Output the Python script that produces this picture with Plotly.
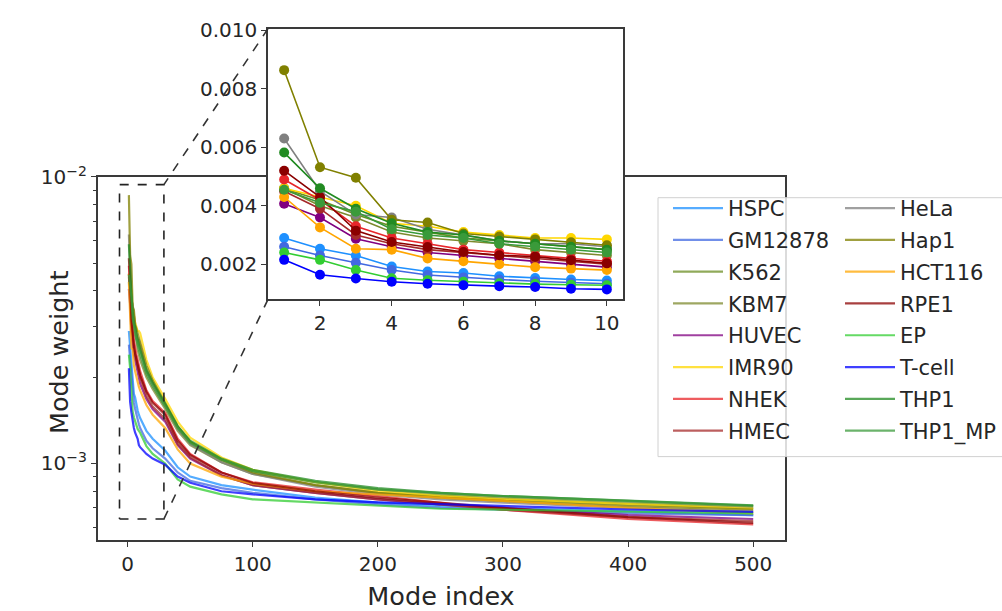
import plotly.graph_objects as go
import math

# ---------------- data ----------------
MODE_INDEX = [1, 2, 3, 4, 5, 6, 7, 8, 9, 10, 15, 20, 30, 40, 50, 75, 100, 150, 200, 250, 300, 400, 500]
N_INSET = 10

CELL_LINES = ["HSPC", "GM12878", "K562", "KBM7", "HUVEC", "IMR90", "NHEK", "HMEC",
              "HeLa", "Hap1", "HCT116", "RPE1", "EP", "T-cell", "THP1", "THP1_MP"]

HSPC = [0.0029, 0.00253, 0.0023, 0.00192, 0.00175, 0.0017, 0.00159, 0.00153, 0.00148, 0.00144, 0.0013, 0.00122, 0.00111, 0.00097, 0.0009, 0.00084, 0.00081, 0.00076, 0.00073, 0.00071, 0.0007, 0.00068, 0.00066]
GM12878 = [0.0026, 0.0023, 0.00205, 0.0018, 0.00163, 0.00155, 0.00148, 0.00142, 0.00137, 0.00133, 0.0012, 0.00113, 0.00104, 0.00093, 0.00087, 0.00082, 0.00079, 0.00075, 0.00072, 0.0007, 0.00069, 0.00067, 0.00066]
K562 = [0.00458, 0.0042, 0.0037, 0.0033, 0.0031, 0.0029, 0.0028, 0.0027, 0.0026, 0.0025, 0.0021, 0.0019, 0.0016, 0.00134, 0.00119, 0.00103, 0.00094, 0.00086, 0.00081, 0.00078, 0.00076, 0.00073, 0.00071]
KBM7 = [0.0046, 0.0040, 0.0036, 0.0031, 0.0029, 0.0028, 0.0027, 0.0025, 0.0024, 0.0023, 0.002, 0.00182, 0.00155, 0.0013, 0.00116, 0.00101, 0.00092, 0.00084, 0.00079, 0.00077, 0.00075, 0.00072, 0.0007]
HUVEC = [0.00407, 0.0036, 0.00287, 0.0026, 0.0024, 0.0023, 0.0022, 0.0021, 0.002, 0.0019, 0.00168, 0.00155, 0.0014, 0.00116, 0.00104, 0.00091, 0.00084, 0.00079, 0.00075, 0.00072, 0.0007, 0.00066, 0.00064]
IMR90 = [0.0046, 0.0043, 0.0040, 0.0034, 0.0033, 0.0031, 0.0030, 0.0029, 0.0029, 0.00285, 0.0023, 0.002, 0.00168, 0.0014, 0.00123, 0.00105, 0.00095, 0.00086, 0.0008, 0.00077, 0.00075, 0.00072, 0.000695]
NHEK = [0.0049, 0.0042, 0.0033, 0.0029, 0.0027, 0.0025, 0.0024, 0.0023, 0.0022, 0.0021, 0.0018, 0.00165, 0.0015, 0.00122, 0.00108, 0.00093, 0.00086, 0.00081, 0.00077, 0.00073, 0.00069, 0.00064, 0.000613]
HMEC = [0.0045, 0.0039, 0.003, 0.0027, 0.0025, 0.0024, 0.0023, 0.0022, 0.0021, 0.002, 0.00172, 0.00158, 0.00143, 0.00117, 0.00105, 0.00091, 0.00084, 0.00079, 0.00075, 0.00072, 0.00069, 0.00065, 0.00063]
HELA = [0.0063, 0.0045, 0.0037, 0.0036, 0.0032, 0.003, 0.0028, 0.0027, 0.0027, 0.0026, 0.0021, 0.0019, 0.0016, 0.00132, 0.00117, 0.00101, 0.00092, 0.00083, 0.00078, 0.00075, 0.00073, 0.0007, 0.00068]
HAP1 = [0.00864, 0.00532, 0.00496, 0.00352, 0.00343, 0.00305, 0.00295, 0.00285, 0.00275, 0.00265, 0.0022, 0.00195, 0.00163, 0.00135, 0.00119, 0.00103, 0.00093, 0.00084, 0.00079, 0.00076, 0.00074, 0.00071, 0.00069]
HCT116 = [0.0043, 0.00326, 0.00253, 0.0025, 0.0022, 0.0021, 0.002, 0.0019, 0.00185, 0.0018, 0.0016, 0.00148, 0.00133, 0.00112, 0.001, 0.0009, 0.00085, 0.0008, 0.00078, 0.00076, 0.00074, 0.0007, 0.00067]
RPE1 = [0.0052, 0.0043, 0.00315, 0.00276, 0.00259, 0.00242, 0.00231, 0.00226, 0.00214, 0.00203, 0.00178, 0.00163, 0.00148, 0.0012, 0.00107, 0.00093, 0.000855, 0.0008, 0.00076, 0.00073, 0.0007, 0.00065, 0.00062]
EP = [0.0024, 0.00215, 0.0018, 0.00152, 0.00145, 0.0014, 0.00135, 0.00132, 0.0013, 0.00128, 0.00115, 0.00108, 0.001, 0.00088, 0.00083, 0.00078, 0.00075, 0.00073, 0.00071, 0.000695, 0.00069, 0.00068, 0.00067]
TCELL = [0.00215, 0.00164, 0.00151, 0.0014, 0.00133, 0.00128, 0.00125, 0.00122, 0.00116, 0.00114, 0.00108, 0.00104, 0.00099, 0.0009, 0.000856, 0.0008, 0.00078, 0.00075, 0.000732, 0.000722, 0.000713, 0.000691, 0.000678]
THP1 = [0.00582, 0.0046, 0.0039, 0.0034, 0.0031, 0.003, 0.0028, 0.0027, 0.0026, 0.0025, 0.00212, 0.00192, 0.00162, 0.00135, 0.0012, 0.00104, 0.00095, 0.00087, 0.00082, 0.00079, 0.00077, 0.00074, 0.000715]
THP1_MP = [0.00455, 0.0041, 0.0038, 0.0032, 0.003, 0.0029, 0.0027, 0.0026, 0.0025, 0.0024, 0.00205, 0.00186, 0.00158, 0.00133, 0.00118, 0.00103, 0.00094, 0.00086, 0.00081, 0.00079, 0.00077, 0.00074, 0.000712]

SERIES = [HSPC, GM12878, K562, KBM7, HUVEC, IMR90, NHEK, HMEC,
          HELA, HAP1, HCT116, RPE1, EP, TCELL, THP1, THP1_MP]

COLORS = ["#1E90FF", "#4169E1", "#6B8E23", "#7D8A2E", "#800080", "#FFD700", "#E8262A", "#A52A2A",
          "#808080", "#808000", "#FFA500", "#8B0000", "#32CD32", "#0000FF", "#228B22", "#3A9A3A"]

# zoom rectangle on main axes (data units) and axes limits
ZOOM_X = [-6.5, 29]
ZOOM_Y = [0.00064, 0.0094]
MAIN_XRANGE = [-24, 525]
MAIN_YRANGE = [0.00054, 0.01002]
INSET_XRANGE = [0.55, 10.45]
INSET_YRANGE = [0.0008, 0.01006]

MAIN_X_TICKS = [0, 100, 200, 300, 400, 500]
MAIN_Y_TICKS = [0.001, 0.01]
MAIN_Y_TICKTEXT = ["10<sup>\u22123</sup>", "10<sup>\u22122</sup>"]
MAIN_Y_MINOR = [0.0006, 0.0007, 0.0008, 0.0009, 0.002, 0.003, 0.004, 0.005, 0.006, 0.007, 0.008, 0.009]
INSET_X_TICKS = [2, 4, 6, 8, 10]
INSET_Y_TICKS = [0.002, 0.004, 0.006, 0.008, 0.010]
INSET_Y_TICKTEXT = ["0.002", "0.004", "0.006", "0.008", "0.010"]

# ---------------- layout geometry ----------------
W, H = 1002, 611
MAIN_DX = [97.6 / W, 784.5 / W]
MAIN_DY = [1 - 538.5 / H, 1 - 166.5 / H]
INSET_DX = [268 / W, 623 / W]
INSET_DY = [1 - 292 / H, 1 - 15 / H]

FONT = "DejaVu Sans"
TXT = "#262626"
AX = "#3a3a3a"

fig = go.Figure()

for i, (name, vals, col) in enumerate(zip(CELL_LINES, SERIES, COLORS)):
    fig.add_trace(go.Scatter(
        x=MODE_INDEX, y=vals, mode="lines", name=name,
        line=dict(color=col, width=2.2), opacity=0.75,
        legend="legend" if i < 8 else "legend2",
        legendgroup=name, xaxis="x", yaxis="y",
    ))

# dashed zoom rectangle
fig.add_trace(go.Scatter(
    x=[ZOOM_X[0], ZOOM_X[1], ZOOM_X[1], ZOOM_X[0], ZOOM_X[0]],
    y=[ZOOM_Y[0], ZOOM_Y[0], ZOOM_Y[1], ZOOM_Y[1], ZOOM_Y[0]],
    mode="lines", line=dict(color="#222", width=1.6, dash="dash"),
    showlegend=False, hoverinfo="skip", xaxis="x", yaxis="y",
))

# inset lines with markers
for name, vals, col in zip(CELL_LINES, SERIES, COLORS):
    fig.add_trace(go.Scatter(
        x=MODE_INDEX[:N_INSET], y=vals[:N_INSET], mode="lines+markers", name=name,
        line=dict(color=col, width=1.6), marker=dict(color=col, size=10),
        showlegend=False, legendgroup=name, xaxis="x2", yaxis="y2",
    ))


def main_to_paper(xv, yv):
    fx = MAIN_DX[0] + (xv - MAIN_XRANGE[0]) / (MAIN_XRANGE[1] - MAIN_XRANGE[0]) * (MAIN_DX[1] - MAIN_DX[0])
    l0, l1 = math.log10(MAIN_YRANGE[0]), math.log10(MAIN_YRANGE[1])
    fy = MAIN_DY[0] + (math.log10(yv) - l0) / (l1 - l0) * (MAIN_DY[1] - MAIN_DY[0])
    return fx, fy


rx_top, ry_top = main_to_paper(ZOOM_X[1], ZOOM_Y[1])
rx_bot, ry_bot = main_to_paper(ZOOM_X[1], ZOOM_Y[0])

shapes = [
    dict(type="line", xref="paper", yref="paper", x0=INSET_DX[0], y0=INSET_DY[1], x1=rx_top, y1=ry_top,
         line=dict(color="#333", width=1.6, dash="dash"), layer="above"),
    dict(type="line", xref="paper", yref="paper", x0=INSET_DX[0], y0=INSET_DY[0], x1=rx_bot, y1=ry_bot,
         line=dict(color="#333", width=1.6, dash="dash"), layer="above"),
    # legend frame
    dict(type="rect", xref="paper", yref="paper", x0=658 / W, x1=1.02, y0=1 - 453 / H, y1=1 - 188 / H,
         fillcolor="rgba(255,255,255,0.82)", line=dict(color="#d0d0d0", width=1), layer="above"),
]

axis_common = dict(showline=True, mirror=True, linecolor=AX, linewidth=1.5, ticks="outside",
                   ticklen=5, tickwidth=1.3, tickcolor=AX, showgrid=False, zeroline=False,
                   tickfont=dict(family=FONT, size=20, color=TXT))

legend_common = dict(bgcolor="rgba(0,0,0,0)", borderwidth=0, xanchor="left", yanchor="top",
                     font=dict(family=FONT, size=21, color=TXT), itemwidth=50,
                     tracegroupgap=1.5, orientation="v")

fig.update_layout(
    width=W, height=H,
    margin=dict(l=0, r=0, t=0, b=0),
    paper_bgcolor="white", plot_bgcolor="white",
    font=dict(family=FONT, color=TXT),
    showlegend=True,
    xaxis=dict(domain=MAIN_DX, range=MAIN_XRANGE, tickvals=MAIN_X_TICKS, anchor="y",
               title=dict(text="Mode index", font=dict(family=FONT, size=25.5, color=TXT), standoff=14),
               **axis_common),
    yaxis=dict(domain=MAIN_DY, type="log",
               range=[math.log10(MAIN_YRANGE[0]), math.log10(MAIN_YRANGE[1])],
               tickvals=MAIN_Y_TICKS, ticktext=MAIN_Y_TICKTEXT, anchor="x",
               minor=dict(tickvals=MAIN_Y_MINOR, ticklen=3, tickcolor=AX, ticks="outside", showgrid=False),
               **axis_common),
    xaxis2=dict(domain=INSET_DX, range=INSET_XRANGE, tickvals=INSET_X_TICKS, anchor="y2", **axis_common),
    yaxis2=dict(domain=INSET_DY, range=INSET_YRANGE, tickvals=INSET_Y_TICKS, ticktext=INSET_Y_TICKTEXT,
                anchor="x2", **axis_common),
    legend=dict(x=668 / W, y=1 - 178 / H, **legend_common),
    legend2=dict(x=840 / W, y=1 - 178 / H, **legend_common),
    shapes=shapes,
    annotations=[dict(text="Mode weight", xref="paper", yref="paper", x=59 / W, y=1 - 346 / H,
                      textangle=-90, showarrow=False, xanchor="center", yanchor="middle",
                      font=dict(family=FONT, size=25.5, color=TXT))],
)

fig.write_html("out.html", config={"displayModeBar": False},
               post_script="document.body.style.margin='0';document.body.style.overflow='hidden';")
